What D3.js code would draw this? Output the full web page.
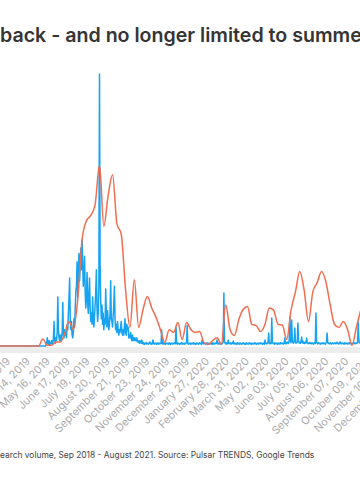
<!DOCTYPE html>
<html>
<head>
<meta charset="utf-8">
<script src="https://cdn.jsdelivr.net/npm/d3@7"></script>
<style>
  body { margin: 0; background: #fff; }
  svg { display: block; }
</style>
</head>
<body>
<div id="chart"></div>
<script>
const width = 360;
const height = 500;

// full series runs Sep 2018 - Aug 2021, only part of it sits in view
const rangeStart = "2018-09-02";
const rangeEnd = "2021-08-29";

const titleText = "back - and no longer limited to summer";
const footerText = "Search volume, Sep 2018 - August 2021. Source: Pulsar TRENDS, Google Trends";

// tick labels every 32 days
const tickDates = [
  "2019-03-13", "2019-04-14", "2019-05-16", "2019-06-17", "2019-07-19",
  "2019-08-20", "2019-09-21", "2019-10-23", "2019-11-24", "2019-12-26",
  "2020-01-27", "2020-02-28", "2020-03-31", "2020-05-02", "2020-06-03",
  "2020-07-05", "2020-08-06", "2020-09-07", "2020-10-09", "2020-11-10",
  "2020-12-12"
];

// weekly search volume (orange)
const orangeStart = "2019-02-17";
const orangeValues = [
  0, 0, 0, 0, 0, 0, 0, 0, 0, 0,
  0, 2.6, 0.3, 0.3, 1.5, 1.5, 4.5, 9, 6, 17,
  39, 46, 48, 52, 66.5, 44, 55.5, 63, 45, 41,
  20.6, 6.8, 24.4, 6.8, 13.4, 18.2, 14, 10.5, 6, 1.3,
  6, 5, 8.6, 2.4, 8.6, 6, 5, 5.3, 1.3, 0.6,
  2, 3, 0.6, 15.1, 6, 3.9, 9.7, 13.4, 14.5, 7.9,
  7.5, 5.3, 7.9, 14, 13.2, 8, 7.7, 2.4, 13.2, 19.9,
  27.4, 20.6, 9, 19.9, 23.3, 27.4, 23.6, 15, 7.9, 6.8,
  9, 6, 0.2, 6.8, 13.2, 18.8
];

// daily volume (blue)
const blueStart = "2019-02-24";
const blueValues = [
  0, 0, 0, 0, 0, 0, 0, 0, 0, 0,
  0, 0, 0, 0, 0, 0, 0, 0, 0, 0,
  0, 0, 0, 0, 0, 0, 0, 0, 0, 0,
  0, 0, 0, 0, 0, 0, 0, 0, 0, 0,
  0, 0, 0, 0, 0, 0, 0, 0, 0, 0,
  0, 0, 0, 0, 0, 0, 0, 0, 0, 0,
  0, 0, 0, 0, 0, 0, 0, 0, 0, 0,
  0, 0, 0, 0, 0, 0.3, 1, 3, 1, 0.5,
  2, 1, 0.5, 1, 2, 1, 1, 3, 9, 2,
  1, 3, 2, 5, 18, 6, 3, 2, 4, 2,
  3, 5, 16, 4, 3, 6, 4, 5, 3, 8,
  6, 12, 18, 25, 10, 6, 9, 4, 3, 5,
  10, 7, 14, 20, 22, 31, 18, 26, 34, 24,
  30, 36, 28, 39, 30, 22, 26, 33, 20, 14,
  18, 27, 16, 12, 19, 25, 14, 9, 12, 8,
  18, 10, 7, 11, 15, 20, 28, 14, 9, 12,
  22, 100, 30, 16, 10, 15, 8, 12, 6, 10,
  8, 21, 12, 7, 13, 9, 6, 8, 12, 24,
  10, 9, 7, 11, 15, 22, 10, 6, 8, 5,
  9, 6, 4, 6, 5, 7, 9, 5, 4, 6,
  4, 7, 10, 5, 4, 8, 6, 7, 3, 4,
  3, 5, 3, 2, 4, 2, 3, 2, 3, 2,
  2, 3, 1.5, 2, 1.5, 1, 2, 1.5, 1, 2.2,
  1, 0.8, 1.2, 0.6, 1, 0.8, 1.3, 0.7, 1, 0.9,
  0.7, 1.1, 1.5, 0.8, 1, 0.6, 1.2, 2.2, 0.9, 0.7,
  1, 0.8, 1.1, 0.6, 0.9, 1.2, 0.7, 1, 0.8, 1.1,
  0.9, 5.9, 1, 0.7, 1.2, 0.8, 1, 0.6, 0.9, 1.1,
  0.8, 1, 0.7, 1.2, 0.9, 0.6, 1, 0.8, 1.1, 0.7,
  1, 0.9, 1.2, 0.8, 7, 1, 0.7, 1.1, 0.8, 0.9,
  0.6, 1, 0.8, 1.2, 0.7, 1, 0.9, 0.6, 1.1, 0.8,
  1, 1.2, 7.5, 0.9, 0.7, 1, 0.8, 1.1, 0.6, 0.9,
  1, 0.8, 1.2, 0.7, 0.9, 1, 0.6, 1.1, 0.8, 1,
  0.7, 0.9, 1.2, 0.8, 1, 0.6, 2.2, 1, 0.8, 1.1,
  0.9, 0.7, 1, 0.8, 1.2, 0.6, 1, 0.9, 0.7, 1.1,
  0.8, 1, 0.6, 1.2, 0.9, 0.7, 1, 0.8, 1.1, 0.9,
  2.2, 0.8, 1, 0.7, 1.2, 0.9, 0.6, 1, 0.8, 1.1,
  1.5, 19.5, 1.8, 1, 0.8, 1.2, 0.7, 1, 2.2, 0.9,
  1, 0.8, 1.2, 0.7, 1, 0.9, 1.8, 0.8, 1.1, 0.7,
  0.9, 1, 0.6, 1.2, 0.8, 1, 0.7, 1.1, 0.9, 0.6,
  1, 0.8, 1.2, 0.9, 0.7, 1, 0.6, 1.1, 0.8, 1,
  0.7, 0.9, 1.2, 0.8, 1, 0.6, 1.1, 0.9, 0.7, 1,
  0.8, 1.2, 0.9, 0.6, 1, 0.8, 1.1, 0.7, 1, 0.9,
  1.2, 0.8, 1, 0.7, 0.9, 1.1, 0.6, 2.2, 1, 0.8,
  1, 0.9, 1.3, 4.8, 1, 0.8, 1.2, 0.9, 10.3, 1.4,
  0.9, 1, 0.7, 1.2, 0.8, 1, 0.9, 0.6, 1.1, 0.8,
  1, 0.7, 1.2, 0.9, 1, 0.8, 1.1, 0.7, 1, 2.9,
  1, 0.8, 1.2, 1.5, 1, 0.9, 2, 10.7, 1.8, 1.2,
  9.6, 2, 1.3, 1, 1.6, 6.6, 1.8, 1, 1.2, 1.5,
  8.5, 2, 1.1, 1.4, 1, 1.6, 3.3, 1.2, 1.8, 1,
  1.3, 0.9, 1.5, 1.1, 2.9, 1.2, 1, 0.8, 1.3, 1,
  0.9, 1.2, 0.8, 1, 1.1, 0.7, 1, 1.3, 0.9, 12.1,
  1.5, 1, 0.8, 1.2, 0.9, 1, 0.7, 1.1, 0.8, 1,
  0.9, 1.2, 0.8, 1, 0.7, 1.1, 1.5, 4.8, 1.2, 0.9,
  1, 0.8, 1.2, 0.9, 0.7, 1, 1.1, 0.8, 1, 0.9,
  1.2, 0.8, 1, 1.4, 0.9, 1, 0.7, 1.2, 1.5, 1,
  0.8, 1.1, 0.9, 1, 0.7, 1.2, 0.8, 1, 0.9, 1.1,
  0.7, 1, 0.8, 1.2, 0.9, 1, 0.6, 1.1, 0.8, 1,
  0.9, 1.2, 0.8, 1, 1.1, 0.9, 1.5, 8.8, 2, 1.2,
  1, 1.3, 0.9, 1.1, 1, 0.8, 1.2, 1, 0.9, 1.1
];

const parseDate = d3.timeParse("%Y-%m-%d");
const formatTick = d3.timeFormat("%B %d, %Y");
const textFont = "Inter, 'Noto Sans', sans-serif";

const orangeData = orangeValues.map((v, i) => ({
  date: d3.timeDay.offset(parseDate(orangeStart), i * 7),
  value: v
}));
const blueData = blueValues.map((v, i) => ({
  date: d3.timeDay.offset(parseDate(blueStart), i),
  value: v
}));

const svg = d3
  .select("#chart")
  .append("svg")
  .attr("width", width)
  .attr("height", height);

// the plot is wider than the window, left part sits off-screen
const x = d3
  .scaleTime()
  .domain([parseDate(rangeStart), parseDate(rangeEnd)])
  .range([-109.5, 569.7]);

const y = d3.scaleLinear().domain([0, 100]).range([346, 74]);

// grey floor under the lines
svg
  .append("rect")
  .attr("x", 0)
  .attr("y", 347)
  .attr("width", width)
  .attr("height", 6)
  .attr("fill", "#ececec");

const line = d3
  .line()
  .x((d) => x(d.date))
  .y((d) => y(d.value));

svg
  .append("path")
  .datum(blueData)
  .attr("fill", "none")
  .attr("stroke", "#15a3f2")
  .attr("stroke-width", 1.5)
  .attr("stroke-linejoin", "round")
  .attr("d", line);

svg
  .append("path")
  .datum(orangeData)
  .attr("fill", "none")
  .attr("stroke", "#f26d4f")
  .attr("stroke-width", 1.5)
  .attr("d", line.curve(d3.curveMonotoneX));

// rotated date labels
svg
  .append("g")
  .selectAll("text")
  .data(tickDates.map(parseDate))
  .enter()
  .append("text")
  .attr("transform", (d) => `translate(${x(d) + 1},${362}) rotate(-45)`)
  .attr("text-anchor", "end")
  .style("font-family", textFont)
  .style("font-size", "10.8px")
  .style("fill", "#ababab")
  .text((d) => formatTick(d));

// title: the visible part ("...summe") fills the width
const title = svg
  .append("text")
  .attr("x", 0)
  .attr("y", 42)
  .style("font-family", textFont)
  .style("font-weight", "600")
  .style("font-size", "17px")
  .style("fill", "#353535")
  .text(titleText.slice(0, -1));
const titleSize = (17 * 362) / title.node().getComputedTextLength();
title.style("font-size", titleSize + "px").text(titleText);

// footer: first letter sits just past the left edge
const footer = svg
  .append("text")
  .attr("y", 458)
  .style("font-family", textFont)
  .style("font-size", "10px")
  .style("fill", "#444")
  .text(footerText.slice(1));
const footerSize = (10 * 315) / footer.node().getComputedTextLength();
footer.style("font-size", footerSize + "px");
const firstLetter = svg
  .append("text")
  .style("font-family", textFont)
  .style("font-size", footerSize + "px")
  .text(footerText[0]);
footer
  .attr("x", -firstLetter.node().getComputedTextLength())
  .text(footerText);
firstLetter.remove();
</script>
</body>
</html>
